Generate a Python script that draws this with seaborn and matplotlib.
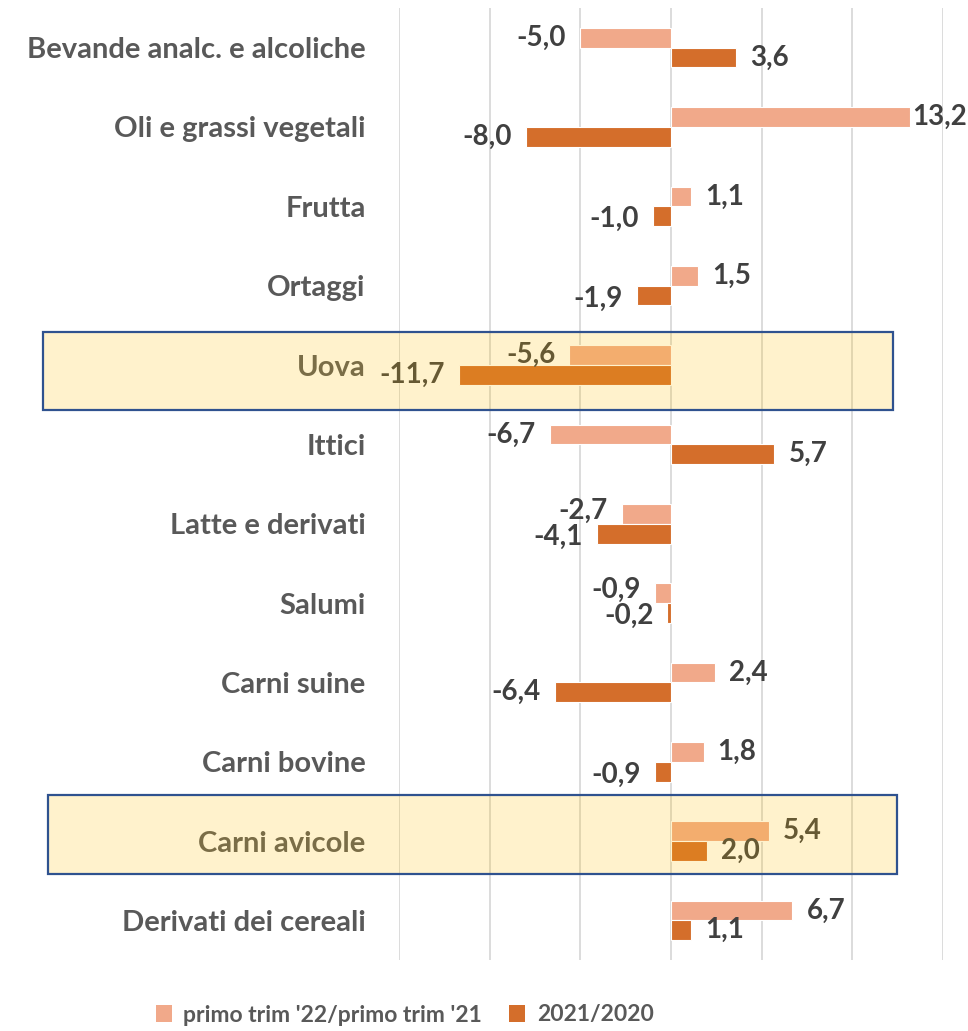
import matplotlib
matplotlib.use("Agg")
import matplotlib.pyplot as plt
import matplotlib.transforms as mtransforms
from matplotlib.patches import Rectangle, Patch
import pandas as pd
import seaborn as sns

# -----------------------------
# Data
# -----------------------------
categories = [
    "Bevande analc. e alcoliche",
    "Oli e grassi vegetali",
    "Frutta",
    "Ortaggi",
    "Uova",
    "Ittici",
    "Latte e derivati",
    "Salumi",
    "Carni suine",
    "Carni bovine",
    "Carni avicole",
    "Derivati dei cereali",
]
series_names = ["primo trim '22/primo trim '21", "2021/2020"]
trim_22_21 = [-5.0, 13.2, 1.1, 1.5, -5.6, -6.7, -2.7, -0.9, 2.4, 1.8, 5.4, 6.7]
year_21_20 = [3.6, -8.0, -1.0, -1.9, -11.7, 5.7, -4.1, -0.2, -6.4, -0.9, 2.0, 1.1]
highlighted = ["Uova", "Carni avicole"]

colors = ["#F1A98A", "#D46E2B"]

df = pd.DataFrame({
    "categoria": categories * 2,
    "serie": [series_names[0]] * len(categories) + [series_names[1]] * len(categories),
    "valore": trim_22_21 + year_21_20,
})

# -----------------------------
# Plot
# -----------------------------
sns.set_theme(style="white")
plt.rcParams["font.family"] = ["Lato", "DejaVu Sans"]
plt.rcParams["font.weight"] = "bold"

fig = plt.figure(figsize=(9.68, 10.31), dpi=100)
ax = fig.add_axes([399 / 968, 1 - 960 / 1031, 544 / 968, 952 / 1031])

sns.barplot(
    data=df, x="valore", y="categoria", hue="serie",
    order=categories, hue_order=series_names,
    palette=colors, saturation=1, orient="h", width=0.5,
    edgecolor="white", linewidth=0.8, ax=ax, legend=False,
)

ax.set_xlim(-15, 15)
ax.set_xticks([-15, -10, -5, 0, 5, 10, 15])
ax.set_xticklabels([])
ax.tick_params(axis="x", length=0)
ax.tick_params(axis="y", length=0, pad=24, labelsize=21, labelcolor="#595959")
for lbl in ax.get_yticklabels():
    lbl.set_fontweight("bold")
ax.grid(axis="x", color="#D9D9D9", linewidth=1.3)
ax.set_axisbelow(True)
ax.set_xlabel("")
ax.set_ylabel("")
for s in ax.spines.values():
    s.set_visible(False)

# -----------------------------
# Data labels
# -----------------------------
for k, cont in enumerate(ax.containers):
    for bar in cont:
        v = bar.get_width()
        yc = bar.get_y() + bar.get_height() / 2
        if v >= 0:
            pad = 2 if v > 12 else 14
            ha = "left"
        else:
            pad = -14
            ha = "right"
        # small negative pairs sit close together: nudge them apart a bit
        dy = 0
        if abs(v) < 5 and v < 0:
            dy = 2 if k == 0 else -2
        ax.annotate(
            f"{v:.1f}".replace(".", ","), (v, yc),
            xytext=(pad * 0.72, dy), textcoords="offset points",
            ha=ha, va="center", fontsize=20, fontweight="bold",
            color="#404040", annotation_clip=False,
        )

# -----------------------------
# Highlight boxes
# -----------------------------
trans = mtransforms.blended_transform_factory(fig.transFigure, ax.transData)
box_x = {"Uova": (43, 893), "Carni avicole": (48, 897)}
box_y = {"Uova": (-0.41, 0.57), "Carni avicole": (-0.58, 0.42)}
for name in highlighted:
    i = categories.index(name)
    x0, x1 = box_x[name]
    y0, y1 = box_y[name]
    fig.patches.append(Rectangle(
        (x0 / 968, i + y1), (x1 - x0) / 968, y0 - y1,
        transform=trans, facecolor=(1, 0.745, 0, 0.2),
        edgecolor="#2F528F", linewidth=1.6, zorder=10,
    ))

# -----------------------------
# Legend
# -----------------------------
handles = [Patch(facecolor=c, edgecolor="none") for c in colors]
fig.legend(
    handles, series_names, loc="center", bbox_to_anchor=(0.418, 1 - 1015 / 1031),
    ncol=2, frameon=False, handlelength=0.7, handleheight=0.7,
    handletextpad=0.5, columnspacing=1.2, labelcolor="#595959",
    prop={"weight": "bold", "size": 16.5},
)

plt.savefig("out.png", dpi=100)
plt.close()
